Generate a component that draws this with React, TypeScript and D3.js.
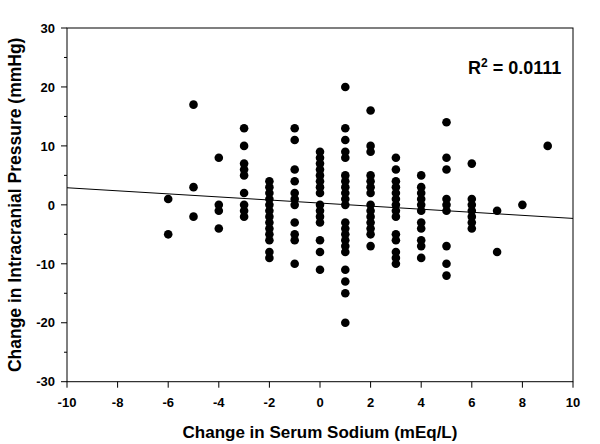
import React from "react";
import * as d3 from "d3";

const sodiumChange: number[] = [-6, -5, -4, -3, -2, -1, 0, 1, 2, 3, 4, 5, 6, 7, 8, 9];
const icpChange: number[][] = [
  [1, -5],
  [17, 3, -2],
  [8, 0, -1, -4],
  [13, 10, 7, 6, 5, 2, 0, -1, -2],
  [4, 3, 2, 1, 0, -1, -2, -3, -4, -5, -6, -8, -9],
  [13, 11, 6, 4, 2, 1, 0, -3, -5, -6, -10],
  [9, 8, 7, 6, 5, 4, 3, 2, 0, -1, -2, -3, -6, -8, -11],
  [20, 13, 11, 9, 8, 5, 4, 3, 2, 1, 0, -3, -4, -5, -6, -7, -8, -11, -13, -15, -20],
  [16, 10, 9, 5, 4, 3, 2, 0, -1, -2, -3, -4, -5, -7],
  [8, 6, 4, 3, 2, 1, 0, -1, -2, -5, -6, -8, -9, -10],
  [5, 3, 2, 1, 0, -1, -3, -4, -6, -7, -9],
  [14, 8, 6, 1, 0, -1, -7, -10, -12],
  [7, 1, 0, -1, -2, -3, -4],
  [-1, -8],
  [0],
  [10],
];
const xTicks: number[] = [-10, -8, -6, -4, -2, 0, 2, 4, 6, 8, 10];
const yTicks: number[] = [-30, -20, -10, 0, 10, 20, 30];
const yMinorTicks: number[] = [-25, -15, -5, 5, 15, 25];
const fitSlope = -0.26;
const fitIntercept = 0.3;
const rSquaredLabel = "0.0111";

export default function App() {
  const W = 600, H = 444;
  const left = 67, right = 573, top = 28, bottom = 381.7;
  const x = d3.scaleLinear().domain([-10, 10]).range([left, right]);
  const y = d3.scaleLinear().domain([-30, 30]).range([bottom, top]);
  const font = "'Liberation Sans', Arial, sans-serif";

  const points: { sx: number; sy: number }[] = [];
  sodiumChange.forEach((sx, i) => icpChange[i].forEach((sy) => points.push({ sx, sy })));

  const fitLine = d3.line<number>().x((d) => x(d)).y((d) => y(fitIntercept + fitSlope * d));

  return (
    <svg width={W} height={H} style={{ position: "absolute", left: 0, top: 0 }} fontFamily={font}>
      <rect x={0} y={0} width={W} height={H} fill="#fff" />
      <rect x={left} y={top} width={right - left} height={bottom - top} fill="none" stroke="#000" strokeWidth={1} />
      {yTicks.map((t) => (
        <g key={"y" + t}>
          <line x1={left - 6} x2={left} y1={y(t)} y2={y(t)} stroke="#000" />
          <text x={left - 12} y={y(t) + 4.7} textAnchor="end" fontSize={13} fontWeight="bold">{t}</text>
        </g>
      ))}
      {yMinorTicks.map((t) => (
        <line key={"ym" + t} x1={left - 3} x2={left} y1={y(t)} y2={y(t)} stroke="#000" />
      ))}
      {xTicks.map((t) => (
        <g key={"x" + t}>
          <line x1={x(t)} x2={x(t)} y1={bottom} y2={bottom + 6} stroke="#000" />
          <text x={x(t)} y={407} textAnchor="middle" fontSize={13} fontWeight="bold">{t}</text>
        </g>
      ))}
      <path d={fitLine([-10, 10]) || ""} stroke="#000" strokeWidth={1} fill="none" />
      {points.map((p, i) => (
        <circle key={i} cx={x(p.sx)} cy={y(p.sy)} r={4.3} fill="#000" />
      ))}
      <text x={(left + right) / 2} y={438} textAnchor="middle" fontSize={17} fontWeight="bold">
        Change in Serum Sodium (mEq/L)
      </text>
      <text transform={`translate(21,${(top + bottom) / 2}) rotate(-90)`} textAnchor="middle" fontSize={17.5} fontWeight="bold">
        Change in Intracranial Pressure (mmHg)
      </text>
      <text x={468} y={74} fontSize={18} fontWeight="bold">
        R<tspan fontSize={12} dy={-7.5}>2</tspan><tspan dy={7.5}> = {rSquaredLabel}</tspan>
      </text>
    </svg>
  );
}
